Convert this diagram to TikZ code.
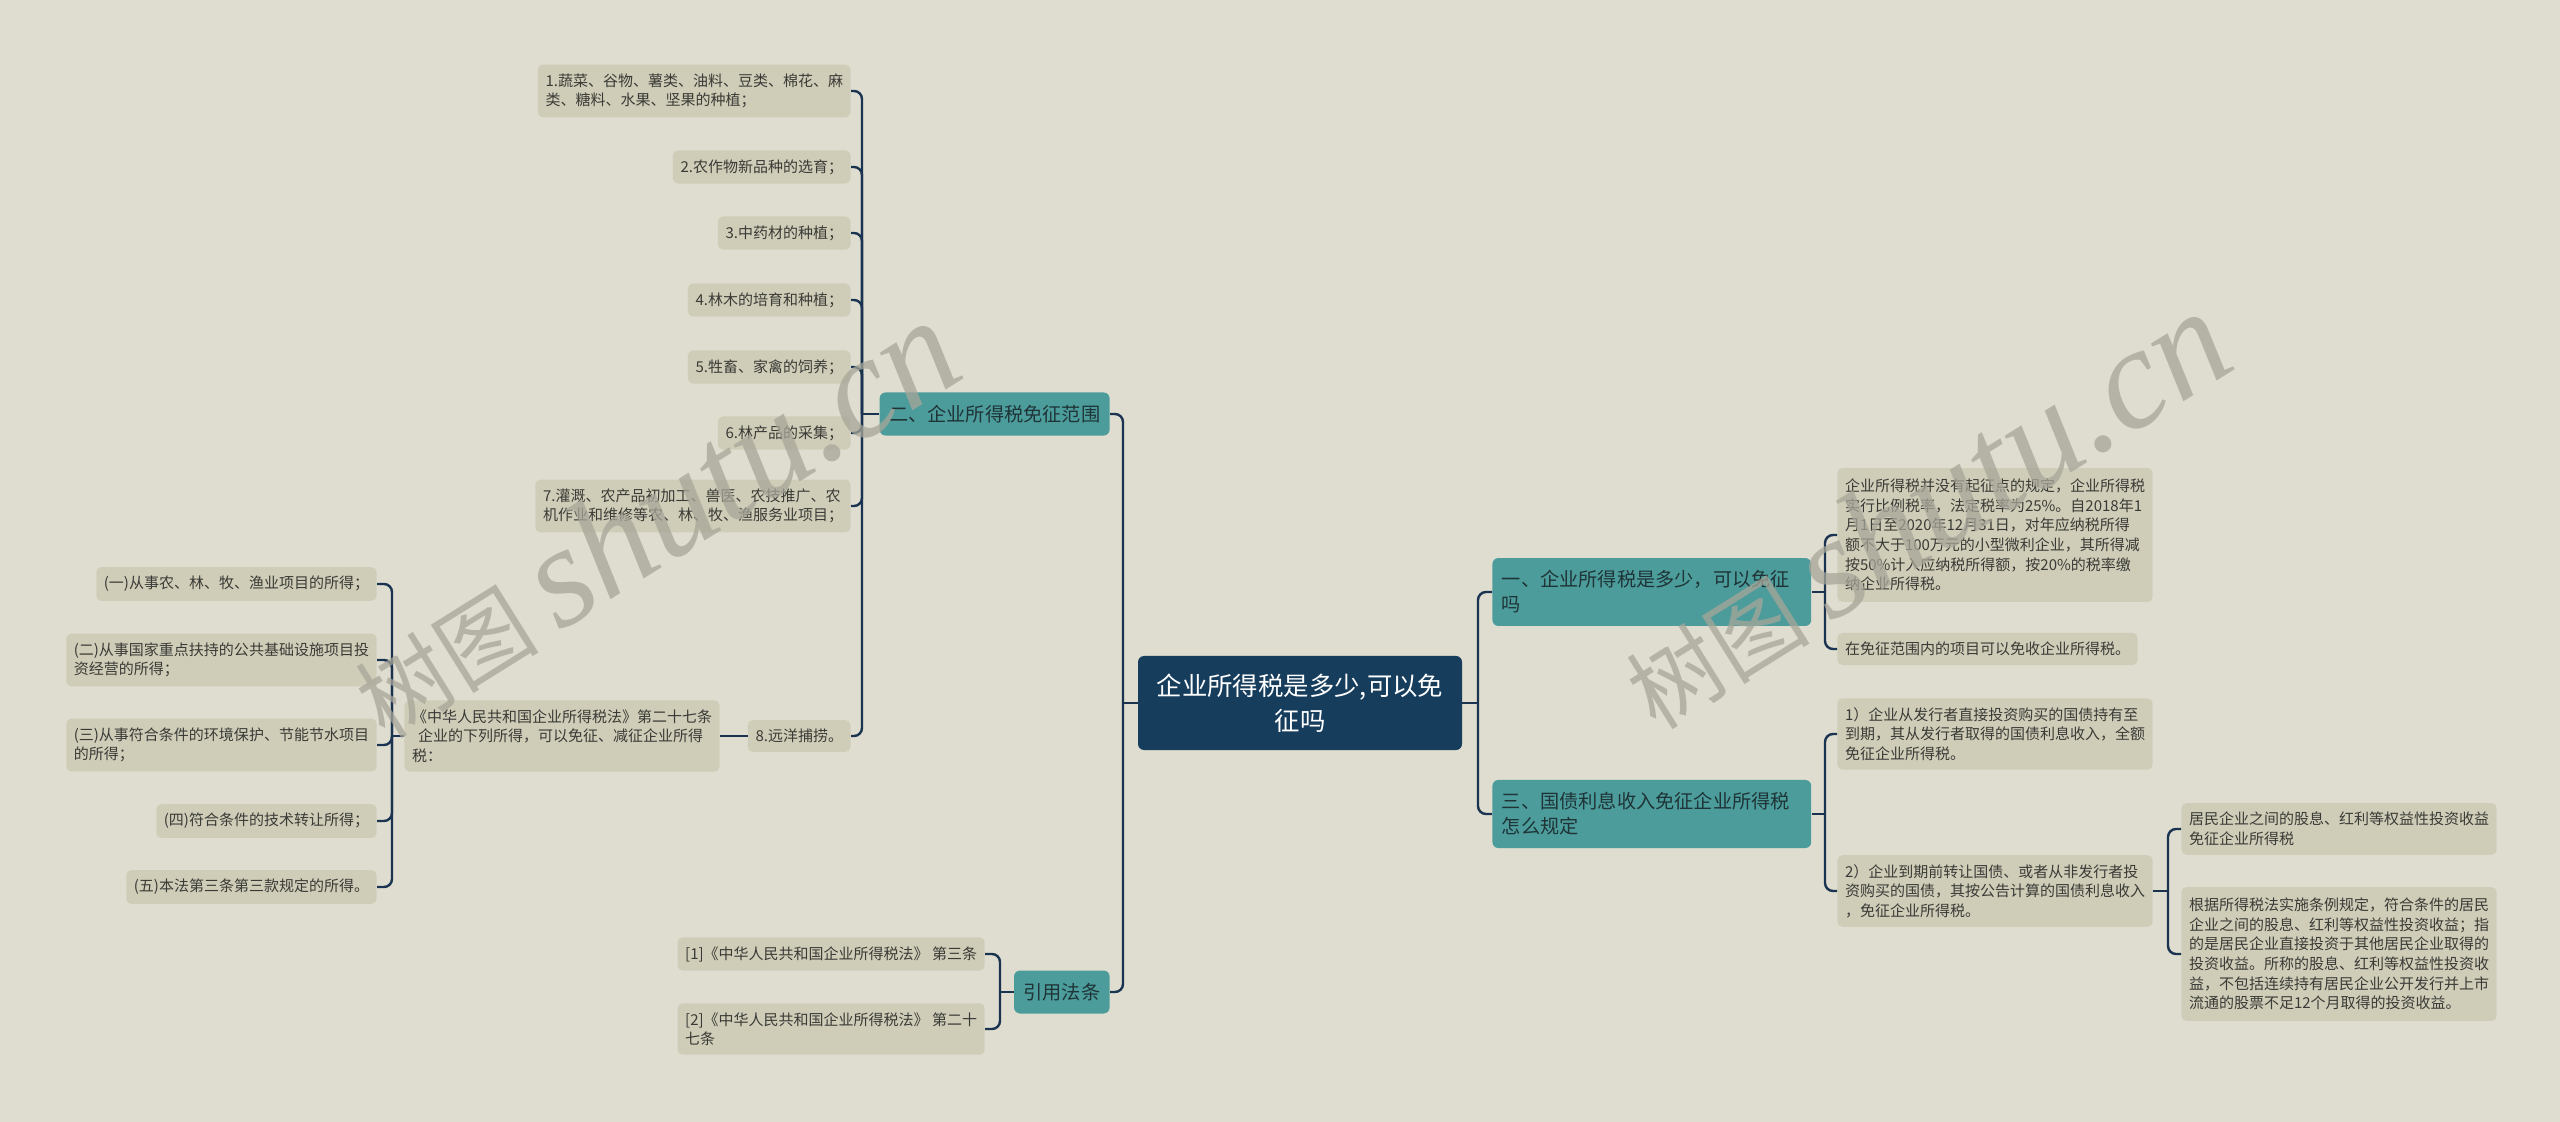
\documentclass[tikz,border=0pt]{standalone}
\usepackage{fontspec}
\setmainfont{Noto Sans CJK SC}
\newfontfamily\wmfont{Liberation Serif}
\definecolor{bgcol}{HTML}{DFDDD0}
\definecolor{leafcol}{HTML}{CFCDB8}
\definecolor{leaftext}{HTML}{3A3A36}
\definecolor{tealcol}{HTML}{4D9C9C}
\definecolor{branchtext}{HTML}{1E3436}
\definecolor{rootcol}{HTML}{173D5D}
\definecolor{linkcol}{HTML}{1A3350}
\definecolor{wmcol}{HTML}{A7A699}

\begin{document}
\begin{tikzpicture}[x=0.5pt,y=-0.5pt,
  leaf/.style={fill=leafcol, rounded corners=2.5pt, text=leaftext, align=left,
    font=\fontsize{7.5}{9.8}\selectfont, inner xsep=3.8pt, inner ysep=4.5pt},
  branch/.style={fill=tealcol, rounded corners=3pt, text=branchtext, align=left,
    font=\fontsize{9.6}{12.5}\selectfont, inner xsep=4.7pt, inner ysep=6.3pt},
  link/.style={draw=linkcol, line width=1.2pt, rounded corners=4pt},
  wm/.style={text=wmcol, opacity=0.75, font=\fontsize{46}{46}\selectfont}]
\fill[bgcol] (0,0) rectangle (2560,1122);
\useasboundingbox (0,0) rectangle (2560,1122);

% centre
\node[fill=rootcol, rounded corners=3pt, text=white, align=center, text width=150pt,
  font=\fontsize{12.7}{17.5}\selectfont, inner xsep=6pt, minimum height=47pt]
  (root) at (1300,703) {企业所得税是多少,可以免\\征吗};

% main branches
\node[branch, anchor=east] (fw) at (1110,414) {二、企业所得税免征范围};
\node[branch, anchor=east] (yf) at (1110,992) {引用法条};
\node[branch, anchor=west, text width=150pt] (sd) at (1492,592) {一、企业所得税是多少，可以免征\\吗};
\node[branch, anchor=west, text width=150pt] (gz) at (1492,814) {三、国债利息收入免征企业所得税\\怎么规定};

% exempt items
\node[leaf, anchor=east] (i1) at (851,91) {1.蔬菜、谷物、薯类、油料、豆类、棉花、麻\\类、糖料、水果、坚果的种植；};
\node[leaf, anchor=east] (i2) at (851,167) {2.农作物新品种的选育；};
\node[leaf, anchor=east] (i3) at (851,233) {3.中药材的种植；};
\node[leaf, anchor=east] (i4) at (851,300) {4.林木的培育和种植；};
\node[leaf, anchor=east] (i5) at (851,367) {5.牲畜、家禽的饲养；};
\node[leaf, anchor=east] (i6) at (851,433) {6.林产品的采集；};
\node[leaf, anchor=east] (i7) at (851,506) {7.灌溉、农产品初加工、兽医、农技推广、农\\机作业和维修等农、林、牧、渔服务业项目；};
\node[leaf, anchor=east] (i8) at (851,736) {8.远洋捕捞。};

\node[leaf, anchor=east] (a27) at (720,736) {《中华人民共和国企业所得税法》第二十七条\\\hspace*{3pt}企业的下列所得，可以免征、减征企业所得\\税：};
\node[leaf, anchor=east] (p1) at (377,584) {(一)从事农、林、牧、渔业项目的所得；};
\node[leaf, anchor=east] (p2) at (377,660) {(二)从事国家重点扶持的公共基础设施项目投\\资经营的所得；};
\node[leaf, anchor=east] (p3) at (377,745) {(三)从事符合条件的环境保护、节能节水项目\\的所得；};
\node[leaf, anchor=east] (p4) at (377,821) {(四)符合条件的技术转让所得；};
\node[leaf, anchor=east] (p5) at (377,887) {(五)本法第三条第三款规定的所得。};

% references
\node[leaf, anchor=east] (ref1) at (985,954) {[1]《中华人民共和国企业所得税法》 第三条};
\node[leaf, anchor=east] (ref2) at (985,1029) {[2]《中华人民共和国企业所得税法》 第二十\\七条};

% right side
\node[leaf, anchor=west, inner ysep=5.5pt] (rate) at (1837,535) {企业所得税并没有起征点的规定，企业所得税\\实行比例税率，法定税率为25\%。自2018年1\\月1日至2020年12月31日，对年应纳税所得\\额不大于100万元的小型微利企业，其所得减\\按50\%计入应纳税所得额，按20\%的税率缴\\纳企业所得税。};
\node[leaf, anchor=west] (mz) at (1837,649) {在免征范围内的项目可以免收企业所得税。};
\node[leaf, anchor=west] (gz1) at (1837,734) {1）企业从发行者直接投资购买的国债持有至\\到期，其从发行者取得的国债利息收入，全额\\免征企业所得税。};
\node[leaf, anchor=west] (gz2) at (1837,891) {2）企业到期前转让国债、或者从非发行者投\\资购买的国债，其按公告计算的国债利息收入\\，免征企业所得税。};
\node[leaf, anchor=west] (gx1) at (2181,829) {居民企业之间的股息、红利等权益性投资收益\\免征企业所得税};
\node[leaf, anchor=west, inner ysep=5.5pt] (gx2) at (2181,954) {根据所得税法实施条例规定，符合条件的居民\\企业之间的股息、红利等权益性投资收益；指\\的是居民企业直接投资于其他居民企业取得的\\投资收益。所称的股息、红利等权益性投资收\\益，不包括连续持有居民企业公开发行并上市\\流通的股票不足12个月取得的投资收益。};

% junctions
\coordinate (jl) at (1123,703);
\coordinate (jr) at (1478,703);
\coordinate (jfw) at (862,414);
\coordinate (ja) at (392,736);
\coordinate (jyf) at (1000,992);
\coordinate (jsd) at (1825,592);
\coordinate (jgz) at (1825,814);
\coordinate (jg2) at (2168,891);

% links
\draw[link] (root.west) -- (jl);
\foreach \n in {fw,yf} \draw[link] (jl) |- (\n.east);
\draw[link] (root.east) -- (jr);
\foreach \n in {sd,gz} \draw[link] (jr) |- (\n.west);
\draw[link] (fw.west) -- (jfw);
\foreach \n in {i1,i2,i3,i4,i5,i6,i7,i8} \draw[link] (jfw) |- (\n.east);
\draw[link] (i8.west) -- (a27.east);
\draw[link] (a27.west) -- (ja);
\foreach \n in {p1,p2,p3,p4,p5} \draw[link] (ja) |- (\n.east);
\draw[link] (yf.west) -- (jyf);
\foreach \n in {ref1,ref2} \draw[link] (jyf) |- (\n.east);
\draw[link] (sd.east) -- (jsd);
\foreach \n in {rate,mz} \draw[link] (jsd) |- (\n.west);
\draw[link] (gz.east) -- (jgz);
\foreach \n in {gz1,gz2} \draw[link] (jgz) |- (\n.west);
\draw[link] (gz2.east) -- (jg2);
\foreach \n in {gx1,gx2} \draw[link] (jg2) |- (\n.west);

% watermark
\node[wm, rotate=32] (wm1) at (653,519) {树图 {\wmfont\itshape\fontsize{72}{72}\selectfont shutu.cn}};
\node[wm, rotate=32] (wm2) at (1924,510) {树图 {\wmfont\itshape\fontsize{72}{72}\selectfont shutu.cn}};
\end{tikzpicture}
\end{document}
